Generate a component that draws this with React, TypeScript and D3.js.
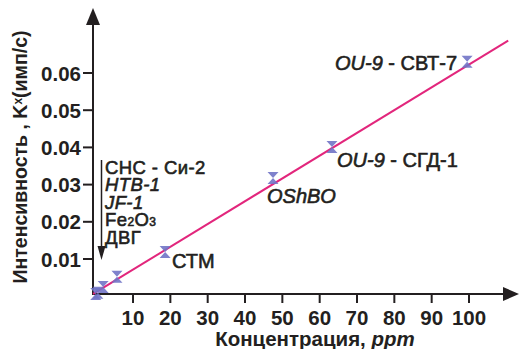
import React from "react";
import * as d3 from "d3";

const xTicks = [10, 20, 30, 40, 50, 60, 70, 80, 90, 100];
const yTicks = [0.01, 0.02, 0.03, 0.04, 0.05, 0.06];
const yTickLabels = ["0.01", "0.02", "0.03", "0.04", "0.05", "0.06"];

const pointConc = [0.0, 0.6, 2.0, 5.7, 18.6, 47.5, 63.3, 99.5];
const pointInt = [0.0006, 0.0009, 0.0025, 0.0052, 0.0119, 0.0318, 0.0401, 0.063];

const lineConc = [-0.7, 110.5];
const lineInt = [0.0006, 0.0687];

const W = 519;
const H = 349;

const x = d3.scaleLinear().domain([0, 100]).range([95.7, 469]);
const y = d3.scaleLinear().domain([0, 0.06]).range([296.2, 73]);

const FONT = "'Liberation Sans', Arial, sans-serif";
const TEXT = "#231f20";
const MARK = "#7174c6";
const LINE = "#e2267c";

export default function App() {
  const axisX0 = 93;
  const axisY0 = 294;
  const lineGen = d3
    .line<number>()
    .x((_, i) => x(lineConc[i]))
    .y((d) => y(d));

  const hour = (cx: number, cy: number) => {
    const w = 5.5;
    const h = 6;
    return `M${cx - w},${cy - h}L${cx + w},${cy - h}L${cx},${cy}L${cx + w},${cy + h}L${cx - w},${cy + h}L${cx},${cy}Z`;
  };

  const med = { stroke: TEXT, strokeWidth: 0.6 };

  return (
    <svg width={W} height={H} style={{ position: "absolute", left: 0, top: 0, background: "#fff" }}>
      <rect width={W} height={H} fill="#fff" />
      {/* axes */}
      <line x1={axisX0} y1={24} x2={axisX0} y2={axisY0 + 1} stroke={TEXT} strokeWidth={2} />
      <path d={`M${axisX0},8L${axisX0 - 7},25L${axisX0 + 7},25Z`} fill={TEXT} />
      <line x1={axisX0 - 1} y1={axisY0} x2={506} y2={axisY0} stroke={TEXT} strokeWidth={2} />
      <path d={`M${519},${axisY0}L${503},${axisY0 - 7}L${503},${axisY0 + 7}Z`} fill={TEXT} />

      {xTicks.map((t) => (
        <g key={t}>
          <line x1={x(t)} x2={x(t)} y1={axisY0} y2={axisY0 + 9} stroke={TEXT} strokeWidth={2} />
          <text x={x(t)} y={325} textAnchor="middle" fontFamily={FONT} fontWeight="bold" fontSize={20.5} fill={TEXT}>
            {t}
          </text>
        </g>
      ))}
      {yTicks.map((t, i) => (
        <g key={t}>
          <line x1={axisX0 - 10} x2={axisX0} y1={y(t)} y2={y(t)} stroke={TEXT} strokeWidth={2} />
          <text x={81} y={y(t) + 7.5} textAnchor="end" fontFamily={FONT} fontWeight="bold" fontSize={20.5} fill={TEXT}>
            {yTickLabels[i]}
          </text>
        </g>
      ))}

      {/* axis titles */}
      <text
        transform={`translate(27,157) rotate(-90)`}
        textAnchor="middle"
        fontFamily={FONT}
        fontWeight="bold"
        fontSize={19.5}
        fill={TEXT}
      >
        Интенсивность , K<tspan fontSize={12} dy={-5}>x</tspan>
        <tspan dy={5}>(имп/с)</tspan>
      </text>
      <text x={315} y={346} textAnchor="middle" fontFamily={FONT} fontWeight="bold" fontSize={20.5} fill={TEXT}>
        Концентрация, <tspan fontStyle="italic">ppm</tspan>
      </text>

      {/* regression line */}
      <path d={lineGen(lineInt) || ""} stroke={LINE} strokeWidth={2} fill="none" />

      {/* markers */}
      {pointConc.map((c, i) => (
        <path key={i} d={hour(x(c), y(pointInt[i]))} fill={MARK} opacity={0.9} />
      ))}

      {/* down arrow and list */}
      <line x1={101.5} y1={160} x2={101.5} y2={250} stroke={TEXT} strokeWidth={1.5} />
      <path d="M101.5,260L97.5,246L105.5,246Z" fill={TEXT} />
      <g fontFamily={FONT} fontSize={18.5} fill={TEXT} letterSpacing={0.4} {...med}>
        <text x={105} y={174}>СНС - Си-2</text>
        <text x={105} y={191} fontStyle="italic">HTB-1</text>
        <text x={105} y={208.5} fontStyle="italic">JF-1</text>
        <text x={105} y={226}>
          Fe<tspan fontSize={12}>2</tspan>O<tspan fontSize={12}>3</tspan>
        </text>
        <text x={105} y={243.5}>ДВГ</text>
      </g>

      {/* sample labels */}
      <g fontFamily={FONT} fontSize={20} fill={TEXT} {...med}>
        <text x={172} y={268}>СТМ</text>
        <text x={267} y={203} fontStyle="italic">OShBO</text>
        <text x={337} y={167}>
          <tspan fontStyle="italic">OU-9</tspan> - СГД-1
        </text>
        <text x={335} y={70}>
          <tspan fontStyle="italic">OU-9</tspan> - СВТ-7
        </text>
      </g>
    </svg>
  );
}
